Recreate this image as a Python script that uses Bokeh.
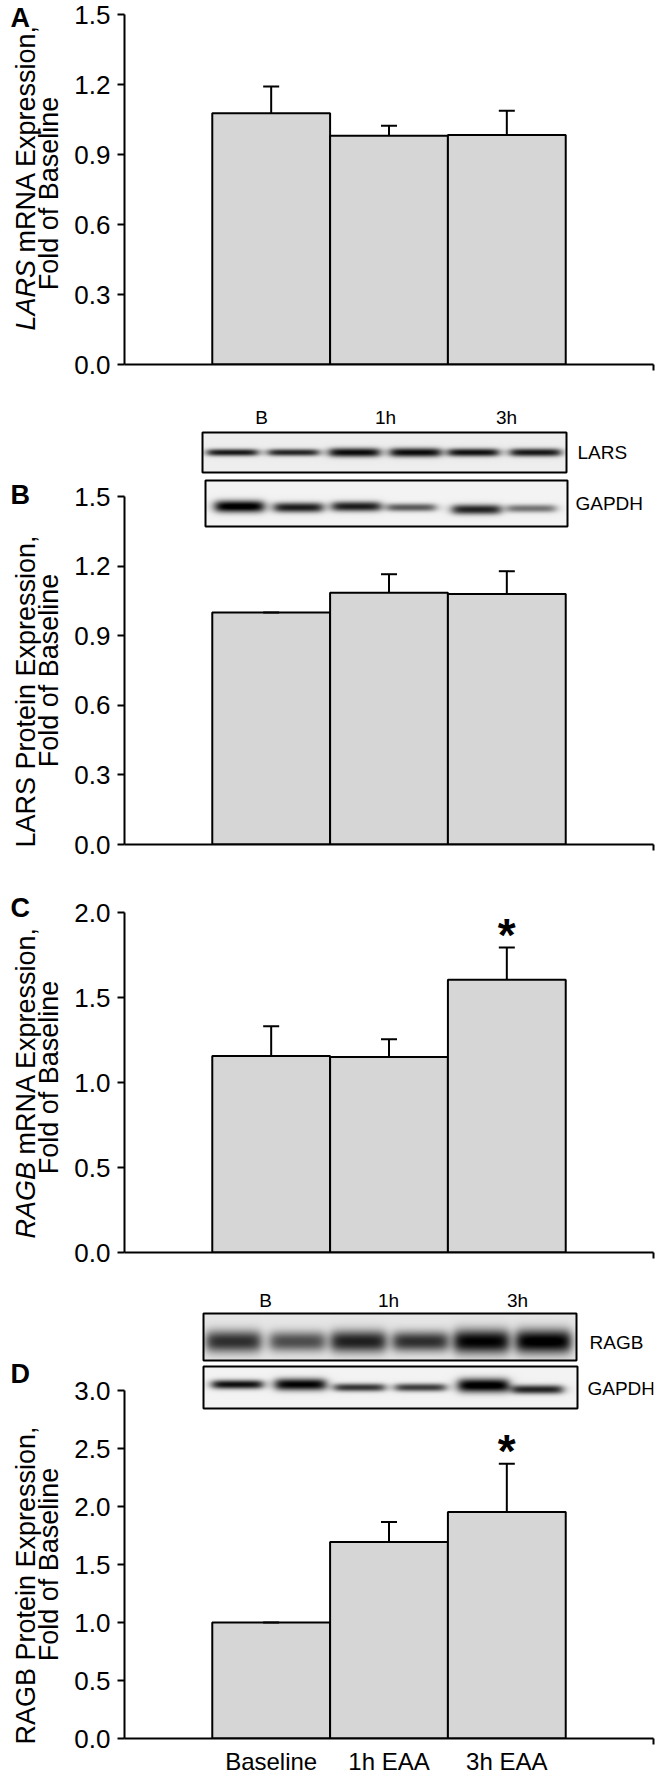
import numpy as np
from bokeh.plotting import figure
from bokeh.layouts import column, row
from bokeh.models import (Range1d, LinearAxis, FixedTicker, PrintfTickFormatter,
                          ColumnDataSource, Whisker, TeeHead, Label, LinearColorMapper)
from bokeh.palettes import Greys256
from bokeh.core.properties import value
from bokeh.embed import file_html
from bokeh.resources import INLINE

# ---------------- data ----------------
categories = ["Baseline", "1h EAA", "3h EAA"]

lars_mrna = [1.077, 0.980, 0.984]
lars_mrna_sem = [0.114, 0.043, 0.103]
lars_protein = [1.000, 1.085, 1.080]
lars_protein_sem = [0.000, 0.080, 0.098]
ragb_mrna = [1.156, 1.150, 1.604]
ragb_mrna_sem = [0.175, 0.105, 0.190]
ragb_protein = [1.000, 1.693, 1.952]
ragb_protein_sem = [0.000, 0.173, 0.416]

sig_lars_mrna = [False, False, False]
sig_lars_protein = [False, False, False]
sig_ragb_mrna = [False, False, True]
sig_ragb_protein = [False, False, True]

ticks_lars = [0.0, 0.3, 0.6, 0.9, 1.2, 1.5]
ticks_ragb_mrna = [0.0, 0.5, 1.0, 1.5, 2.0]
ticks_ragb_protein = [0.0, 0.5, 1.0, 1.5, 2.0, 2.5, 3.0]

lane_groups = ["B", "1h", "3h"]
# band darkness per lane (2 lanes per group) read from the blots
band_lars = [0.85, 0.80, 0.90, 0.90, 0.88, 0.85]
band_gapdh_b = [1.00, 0.85, 0.85, 0.60, 0.82, 0.50]
band_ragb = [0.72, 0.60, 0.78, 0.72, 0.90, 0.93]
band_gapdh_d = [0.90, 0.95, 0.75, 0.72, 1.00, 0.82]

# ---------------- layout constants ----------------
FONT = "Liberation Sans"
PAGE = 0               # the Bokeh page template has no body margin
GUTTER = 66            # left text column (panel letters, axis titles)
FRAME_LEFT_PAGE = 124  # page x of plot frames
MAIN_LEFT = FRAME_LEFT_PAGE - PAGE - GUTTER
FRAME_W = 529
RIGHT = 8
BOTTOM_PAGE = 1776
PAD = 0.745
X0 = -0.5 - PAD
X1 = len(categories) - 0.5 + PAD

AW = {"A": 667, "B": 667, "E": 667, "G": 778, "L": 556, "N": 722, "R": 722, "S": 667,
      "m": 833, "x": 500, "p": 556, "r": 333, "e": 556, "s": 500, "i": 222, "o": 556,
      "n": 556, ",": 278, " ": 278}


def em(s):
    return sum(AW.get(c, 556) for c in s) / 1000.0


def add_label(p, fb, x, y, text, size, style="normal", align="left"):
    p.add_layout(Label(x=x - FRAME_LEFT_PAGE, y=fb - y, x_range_name="px", y_range_name="px",
                       text=text, text_font=FONT, text_font_size=f"{size}px",
                       text_font_style=style, text_align=align, text_baseline="middle",
                       text_color="black"))


def draw_strip(p, fb, strip):
    x0, x1, y0, y1 = strip["box"]
    W, H = int(x1 - x0), int(y1 - y0)
    xs = x0 + np.arange(W) + 0.5
    ys = y1 - (np.arange(H) + 0.5)
    dark = np.full((H, W), strip["bg"])
    for c, d, t, yc in zip(strip["lanes"], strip["dark"], strip["thick"], strip["yc"]):
        hx = 1.0 / (1.0 + np.exp((np.abs(xs - c) - strip["half_w"]) / 3.0))
        vy = np.exp(-np.abs((ys - yc) / t) ** 2.2)
        dark += d * np.outer(vy, hx)
    img = np.clip(1.0 - dark, 0, 1)
    cm = LinearColorMapper(palette=Greys256, low=0, high=1)
    p.image(image=[img], x=x0 - FRAME_LEFT_PAGE, y=fb - y1, dw=W, dh=H, color_mapper=cm,
            x_range_name="px", y_range_name="px")
    p.quad(left=x0 - FRAME_LEFT_PAGE, right=x1 - FRAME_LEFT_PAGE, bottom=fb - y1, top=fb - y0,
           fill_color=None, line_color="black", line_width=2,
           x_range_name="px", y_range_name="px")
    lx, ly = strip["label_xy"]
    add_label(p, fb, lx, ly, strip["label"], 19)


def make_panel(cfg):
    ft, fb = cfg["frame_top"], cfg["frame_bottom"]
    fh = fb - ft
    scale = cfg["axis_px"] / cfg["axis_max"]
    p = figure(frame_width=FRAME_W, frame_height=fh,
               x_range=Range1d(X0, X1), y_range=Range1d(0, fh / scale),
               min_border_left=MAIN_LEFT, min_border_right=RIGHT,
               min_border_top=ft - cfg["fig_top"], min_border_bottom=cfg["fig_bottom"] - fb,
               x_axis_type=None, y_axis_type=None, output_backend="svg",
               toolbar_location=None, outline_line_color=None,
               background_fill_color="white", border_fill_color="white")
    p.extra_x_ranges = {"px": Range1d(0, FRAME_W)}
    p.extra_y_ranges = {"px": Range1d(0, fh)}

    yax = LinearAxis(bounds=(0, cfg["axis_max"]), ticker=FixedTicker(ticks=cfg["ticks"]),
                     formatter=PrintfTickFormatter(format="%.1f"),
                     axis_line_width=2, axis_line_color="black",
                     major_tick_out=7, major_tick_in=0, major_tick_line_width=2,
                     major_tick_line_color="black", minor_tick_out=0, minor_tick_in=0,
                     major_label_standoff=7, major_label_text_font=FONT,
                     major_label_text_font_size="26px", major_label_text_color="black")
    p.add_layout(yax, "left")

    idx = list(range(len(categories)))
    show = cfg["xlabels"]
    xax = LinearAxis(ticker=FixedTicker(ticks=idx, minor_ticks=[X1]),
                     major_label_overrides={i: (c if show else "") for i, c in enumerate(categories)},
                     axis_line_width=2, axis_line_color="black",
                     major_tick_out=0, major_tick_in=0, major_tick_line_color=None,
                     minor_tick_out=6, minor_tick_in=0, minor_tick_line_width=2,
                     minor_tick_line_color="black", major_label_standoff=3,
                     major_label_text_font=FONT,
                     major_label_text_font_size="24px" if show else "0px",
                     major_label_text_color="black")
    p.add_layout(xax, "below")

    vals, sems = cfg["values"], cfg["sems"]
    upper = [v + s for v, s in zip(vals, sems)]
    src = ColumnDataSource(dict(x=idx, category=categories, top=vals, upper=upper))
    p.vbar(x="x", top="top", bottom=0, width=1.0, source=src, fill_color="#d6d6d6",
           line_color="black", line_width=2)
    p.add_layout(Whisker(source=src, base="x", lower="top", upper="upper",
                         line_color="black", line_width=2, level="overlay",
                         upper_head=TeeHead(size=16, line_color="black", line_width=2),
                         lower_head=None))

    sx = [i for i in idx if cfg["sig"][i]]
    if sx:
        ssrc = ColumnDataSource(dict(x=sx, y=[upper[i] for i in sx], t=["*"] * len(sx)))
        p.text(x="x", y="y", text="t", source=ssrc, text_font=value(FONT),
               text_font_style="bold", text_font_size="46px", text_align="center",
               text_baseline="middle", y_offset=-13, text_color="black")

    blot = cfg.get("blot")
    if blot:
        for g, gx in zip(lane_groups, blot["group_x"]):
            add_label(p, fb, gx, blot["group_y"], g, 19, align="center")
        for strip in blot["strips"]:
            draw_strip(p, fb, strip)
    return p


def gutter_texts(g, cfg):
    """Panel letter and two-line rotated y-axis title, in page coordinates."""
    def gx(x):
        return x - PAGE

    def gy(y):
        return BOTTOM_PAGE - y

    g.text(x=[gx(10)], y=[gy(cfg["letter_y"])], text=[cfg["letter"]],
           text_font=value(FONT), text_font_style="bold", text_font_size="27px",
           text_align="left", text_baseline="middle", text_color="black")
    size = 27
    fb = cfg["frame_bottom"]
    axis_center = fb - cfg["axis_px"] / 2.0
    c1 = axis_center + cfg["t1_off"]
    c2 = axis_center + cfg["t2_off"]
    it, rest = cfg["title1"]
    ang = np.pi / 2
    common = dict(text_font=value(FONT), text_font_size=f"{size}px",
                  text_baseline="alphabetic", angle=ang, text_color="black")
    if it:
        total = (em(it) + em(" ") + em(rest)) * size
        start = c1 + total / 2.0
        split = start - em(it) * size
        g.text(x=[gx(25)], y=[gy(split)], text=[it], text_font_style="italic",
               text_align="right", **common)
        g.text(x=[gx(25)], y=[gy(split - em(" ") * size)], text=[rest],
               text_align="left", **common)
    else:
        g.text(x=[gx(25)], y=[gy(c1)], text=[rest], text_align="center", **common)
    g.text(x=[gx(48)], y=[gy(c2)], text=["Fold of Baseline"], text_align="center", **common)


blot_b = dict(
    group_x=[261, 385, 506], group_y=417,
    strips=[
        dict(box=(202, 566, 432, 472), lanes=[232, 293, 354, 415, 473, 535],
             yc=[452] * 6, thick=[3.5, 3.5, 4.5, 4.5, 4.0, 4.0], half_w=25, bg=0.07,
             dark=band_lars, label="LARS", label_xy=(577, 452)),
        dict(box=(205, 567, 480, 526), lanes=[239, 298, 356, 411, 476, 531],
             yc=[506, 507, 506, 507, 509, 508], thick=[6, 5, 5, 4, 5, 4], half_w=24, bg=0.05,
             dark=band_gapdh_b, label="GAPDH", label_xy=(575, 503)),
    ])

blot_d = dict(
    group_x=[265, 388, 517], group_y=1300,
    strips=[
        dict(box=(203, 576, 1313, 1360), lanes=[233, 297, 358, 420, 481, 543],
             yc=[1341] * 6, thick=[11, 10, 11, 10, 12, 12], half_w=27, bg=0.10,
             dark=band_ragb, label="RAGB", label_xy=(589, 1342)),
        dict(box=(203, 577, 1366, 1408), lanes=[237, 300, 359, 420, 483, 537],
             yc=[1384, 1384, 1387, 1387, 1385, 1389], thick=[4.5, 6, 4, 4, 7, 4.5],
             half_w=25, bg=0.05, dark=band_gapdh_d, label="GAPDH", label_xy=(587, 1388)),
    ])

panels = [
    dict(letter="A", letter_y=17, fig_top=0, fig_bottom=398, frame_top=14, frame_bottom=364,
         axis_max=1.5, axis_px=350, ticks=ticks_lars, values=lars_mrna, sems=lars_mrna_sem,
         sig=sig_lars_mrna, xlabels=False, title1=("LARS", "mRNA Expression,"),
         t1_off=-12, t2_off=4),
    dict(letter="B", letter_y=494, fig_top=398, fig_bottom=878, frame_top=402, frame_bottom=844,
         axis_max=1.5, axis_px=348, ticks=ticks_lars, values=lars_protein, sems=lars_protein_sem,
         sig=sig_lars_protein, xlabels=False, title1=("", "LARS Protein Expression,"),
         t1_off=21, t2_off=0, blot=blot_b),
    dict(letter="C", letter_y=907, fig_top=878, fig_bottom=1280, frame_top=882, frame_bottom=1252,
         axis_max=2.0, axis_px=340, ticks=ticks_ragb_mrna, values=ragb_mrna, sems=ragb_mrna_sem,
         sig=sig_ragb_mrna, xlabels=False, title1=("RAGB", "mRNA Expression,"),
         t1_off=0, t2_off=-5),
    dict(letter="D", letter_y=1373, fig_top=1280, fig_bottom=1776, frame_top=1284,
         frame_bottom=1738, axis_max=3.0, axis_px=348, ticks=ticks_ragb_protein,
         values=ragb_protein, sems=ragb_protein_sem, sig=sig_ragb_protein, xlabels=True,
         title1=("", "RAGB Protein Expression,"), t1_off=21, t2_off=0, blot=blot_d),
]

figs = [make_panel(c) for c in panels]

total_h = BOTTOM_PAGE - PAGE
gutter = figure(width=GUTTER, height=total_h, x_range=Range1d(0, GUTTER),
                y_range=Range1d(0, total_h), min_border_left=0, min_border_right=0,
                min_border_top=0, min_border_bottom=0, x_axis_type=None, y_axis_type=None,
                output_backend="svg", toolbar_location=None, outline_line_color=None,
                background_fill_color="white", border_fill_color="white")
for c in panels:
    gutter_texts(gutter, c)

layout = row(gutter, column(*figs, spacing=0), spacing=0)

open("out.html", "w").write(file_html(layout, INLINE))
